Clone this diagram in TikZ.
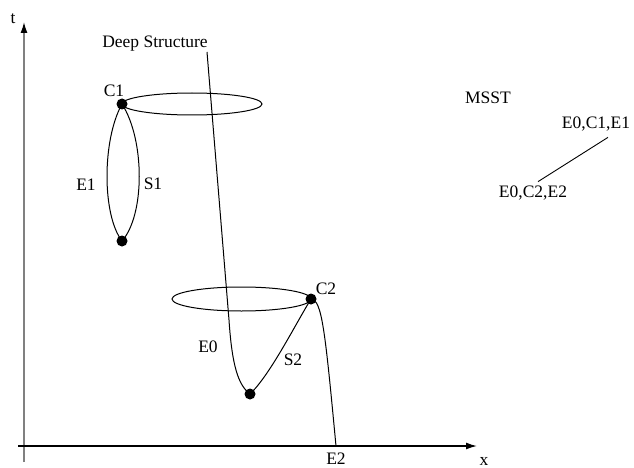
\documentclass[tikz,border=0pt]{standalone}
\usepackage{fontspec}
\setmainfont{Liberation Serif}
\usetikzlibrary{arrows.meta}
\begin{document}
\begin{tikzpicture}[x=1pt,y=-1pt,
  lbl/.style={inner sep=0pt,font=\rmfamily\fontsize{17.5}{20}\selectfont},
  dot/.style={circle,fill=black,inner sep=0pt,minimum size=11pt},
  crv/.style={line width=1pt},
  axisline/.style={line width=1.4pt,-{Latex[length=11pt,width=7pt,black]}}]
\useasboundingbox (0,0) rectangle (634,468);
% axes
\coordinate (ybot) at (24,462);
\coordinate (ytop) at (24,22);
\coordinate (xl) at (18,446);
\coordinate (xr) at (477,446);
\draw[axisline,draw=gray] (ybot) -- (ytop);
\draw[axisline] (xl) -- (xr);
\node[lbl] (tlab) at (13,19) {t};
\node[lbl] (xlab) at (484,461) {x};
% dots
\node[dot] (C1) at (122,104) {};
\node[dot] (B1) at (122,241) {};
\node[dot] (B2) at (250,394) {};
\node[dot] (C2) at (311,299) {};
% labels
\node[lbl] (ds) at (155,44) {Deep Structure};
\node[lbl] (c1lab) at (114,91) {C1};
\node[lbl] (e1lab) at (86,185) {E1};
\node[lbl] (s1lab) at (153,184) {S1};
\node[lbl] (c2lab) at (326,289) {C2};
\node[lbl] (e0lab) at (208,347) {E0};
\node[lbl] (s2lab) at (293,360) {S2};
\node[lbl] (e2lab) at (336,459) {E2};
\node[lbl] (msst) at (488,98) {MSST};
\node[lbl] (n1) at (596,124) {E0,C1,E1};
\node[lbl] (n2) at (533,193) {E0,C2,E2};
% ellipses
\draw[crv] (192,104) ellipse [x radius=70pt, y radius=11pt];
\draw[crv] (241.5,299) ellipse [x radius=69.5pt, y radius=12pt];
% loop 1
\draw[crv] (C1.center) .. controls (102,140) and (102,215) .. (B1.center);
\draw[crv] (C1.center) .. controls (145,140) and (145,215) .. (B1.center);
% deep structure / E0
\coordinate (dstop) at (207,52);
\draw[crv] (dstop) -- (229,320) .. controls (232,365) and (238,385) .. (B2.center);
% S2
\draw[crv] (B2.center) .. controls (270,375) and (295,325) .. (C2.center);
% E2
\coordinate (E2end) at (336,446);
\draw[crv] (C2.center) .. controls (322,300) and (325,330) .. (E2end);
% MSST tree
\draw[line width=0.9pt] ([xshift=12pt,yshift=-6pt]n1.south) -- ([xshift=5pt,yshift=4pt]n2.north);
\end{tikzpicture}
\end{document}
